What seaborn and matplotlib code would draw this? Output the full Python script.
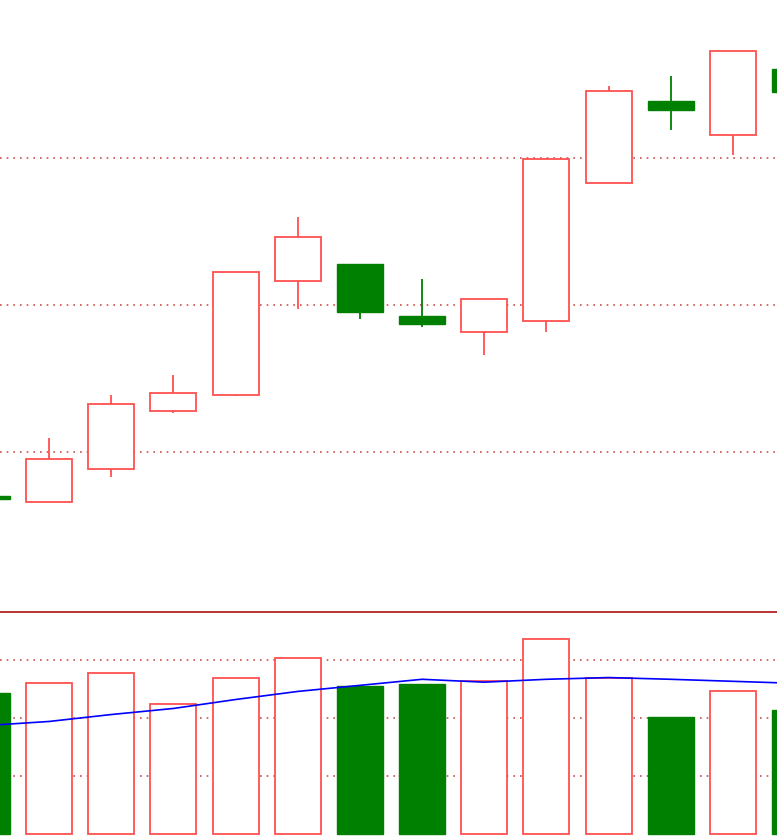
import numpy as np
import pandas as pd
import matplotlib
matplotlib.use('Agg')
import matplotlib.pyplot as plt
import seaborn as sns

# Бары: индекс, координаты тела и теней (в пикселях исходной картинки), направление
bar_idx = np.arange(14)
body_top = [497, 460, 405, 394, 273, 238, 265, 317, 300, 160, 92, 102, 52, 70]
body_bot = [500, 503, 470, 412, 396, 282, 313, 325, 333, 322, 184, 111, 136, 93]
wick_top = [497, 439, 396, 376, 273, 218, 265, 280, 300, 159, 87, 77, 52, 68]
wick_bot = [500, 503, 478, 414, 397, 310, 320, 328, 356, 333, 184, 131, 156, 95]
bullish = [False, True, True, True, True, True, False, False, True, True, True, False, True, False]

# Объёмы и скользящая средняя объёма
volumes = [242.6, 260.0, 277.4, 223.5, 268.7, 303.5, 254.8, 258.3, 263.5, 336.5, 268.7, 200.9, 246.0, 213.0]
vol_ma = [187.0, 194.0, 206.0, 216.5, 232.0, 246.0, 256.5, 267.0, 262.0, 267.0, 270.0, 267.0, 263.5, 260.0]

# Уровни сетки
price_grid = [1.10, 1.20, 1.30]
vol_grid = [100, 200, 300]

sns.set_style('white')

RED = '#ff4f4f'
GREEN = '#008000'
GRID = '#c8504d'

fig = plt.figure(figsize=(7.77, 8.37), dpi=100)
ax = fig.add_axes([0, 224 / 837, 1, 613 / 837])
axv = fig.add_axes([0, 0, 1, 224 / 837])

w = 0.74
xlim = (0.209, 12.71)


# Пересчёт пикселей в цену
def px(y):
    return 1.20 + (306 - y) / 1470


df = pd.DataFrame({'i': bar_idx, 'vol': volumes, 'ma': vol_ma, 'bull': bullish})
df['high'] = [px(v) for v in wick_top]
df['low'] = [px(v) for v in wick_bot]
df['open'] = [px(b) if up else px(t) for t, b, up in zip(body_top, body_bot, bullish)]
df['close'] = [px(t) if up else px(b) for t, b, up in zip(body_top, body_bot, bullish)]

# Сетка
for g in price_grid:
    ax.axhline(g, color=GRID, ls=(0, (1, 3)), lw=1.2, zorder=0)
for g in vol_grid:
    axv.axhline(g, color=GRID, ls=(0, (1, 3)), lw=1.2, zorder=0)

# Свечи
for _, r in df.iterrows():
    col = RED if r['bull'] else GREEN
    ax.vlines(r['i'], r['low'], r['high'], color=col, lw=1.3, zorder=1)
    lo = min(r['open'], r['close'])
    h = abs(r['close'] - r['open'])
    if r['bull']:
        ax.bar(r['i'], h, bottom=lo, width=w, facecolor='white', edgecolor=RED, lw=1.3, zorder=2)
    else:
        ax.bar(r['i'], h, bottom=lo, width=w, facecolor=GREEN, edgecolor=GREEN, lw=1.0, zorder=2)

# Объёмы
for _, r in df.iterrows():
    if r['bull']:
        axv.bar(r['i'], r['vol'], width=w, facecolor='white', edgecolor=RED, lw=1.3, zorder=2)
    else:
        axv.bar(r['i'], r['vol'], width=w, facecolor=GREEN, edgecolor=GREEN, lw=1.0, zorder=2)

sns.lineplot(data=df, x='i', y='ma', ax=axv, color='#0000ff', lw=1.2, zorder=3)

ax.set_xlim(*xlim)
ax.set_ylim(px(613), px(0))
axv.set_xlim(*xlim)
axv.set_ylim(-4.3, 383.5)

for a in (ax, axv):
    a.set_xticks([]); a.set_yticks([])
    a.set_xlabel(''); a.set_ylabel('')
    for s in a.spines.values():
        s.set_visible(False)
axv.spines['top'].set_visible(True)
axv.spines['top'].set_color('#b22222')
axv.spines['top'].set_linewidth(1.3)

fig.savefig('out.png', dpi=100)
